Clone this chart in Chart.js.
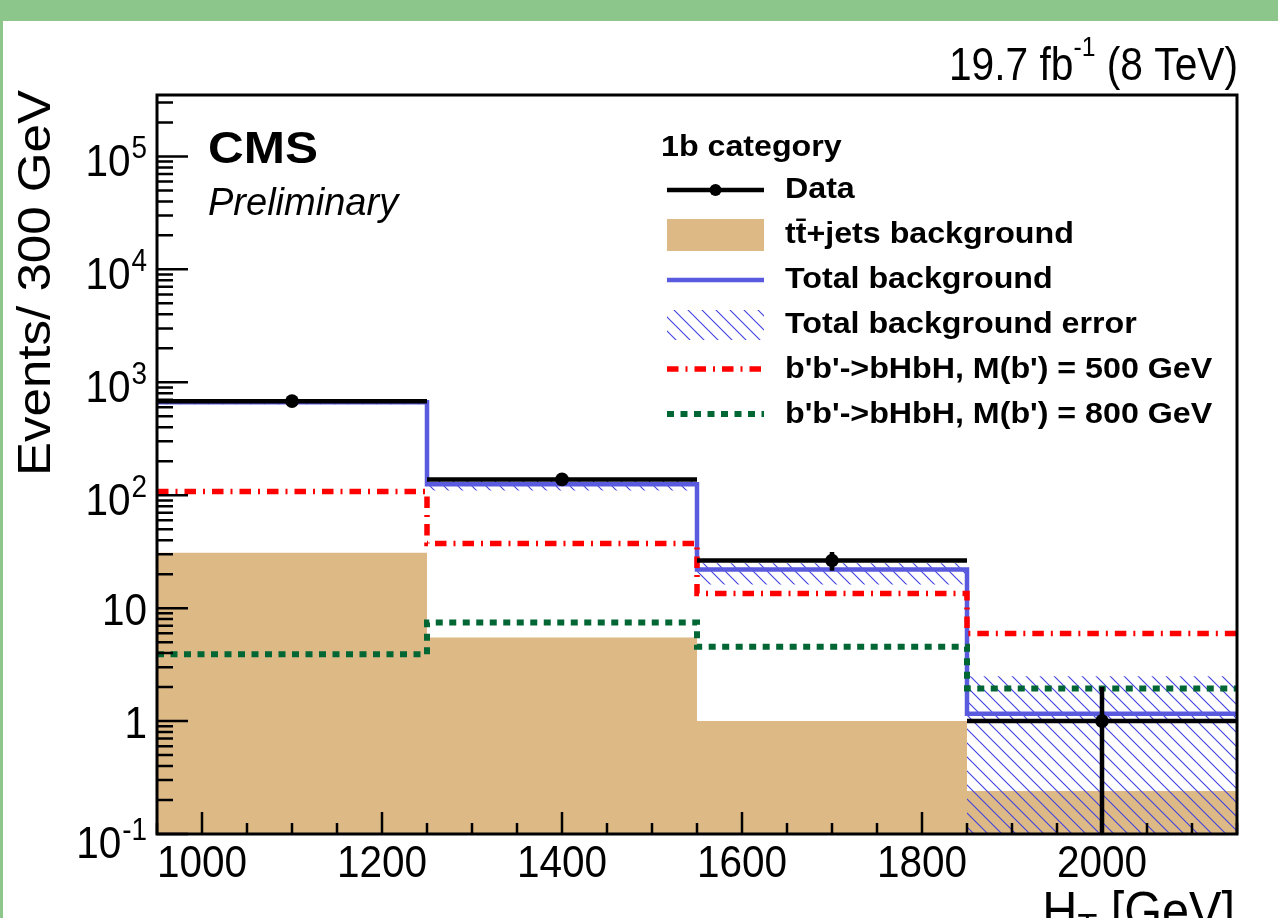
<!DOCTYPE html>
<html><head><meta charset="utf-8">
<script src="https://cdn.jsdelivr.net/npm/chart.js@4/dist/chart.umd.min.js"></script>
<style>
html,body{margin:0;padding:0;}
body{background:#8cc68b;width:1278px;height:918px;overflow:hidden;position:relative;}
#panel{position:absolute;left:3px;top:21px;right:0;bottom:0;background:#fff;}
#c{position:absolute;left:0;top:0;}
</style></head><body>
<div id="panel"></div>
<canvas id="c" width="1278" height="918"></canvas>
<script>
// ---- data ----
const binEdges = [950, 1250, 1550, 1850, 2150];
const binCenters = [1100, 1400, 1700, 2000];
const dataValues = [681, 138, 26.4, 1.0];
const dataErrors = [26, 12, 5, 1];
const ttbarValues = [31, 5.5, 1.0, 0.24];
const totalBkgValues = [665, 125, 22, 1.16];
const bkgErrLow = [640, 110, 16.2, 0.1];
const bkgErrHigh = [690, 135, 25, 2.5];
const sig500Values = [108, 37.4, 13.5, 5.95];
const sig800Values = [3.9, 7.45, 4.56, 1.94];
const xTickLabels = [1000, 1200, 1400, 1600, 1800, 2000];
const yTickExponents = [-1, 0, 1, 2, 3, 4, 5];
const xMinorStep = 50;
const xRange = [950, 2150];
const yRange = [0.1, 3.5e5];
const legendTitle = '1b category';
const legendLabels = ['Data', 'tt\u0304+jets background', 'Total background', 'Total background error',
  "b'b'->bHbH, M(b') = 500 GeV", "b'b'->bHbH, M(b') = 800 GeV"];

// ---- styles ----
const FONT = '"Liberation Sans", Arial, Helvetica, sans-serif';
const C_TAN = '#ddb985', C_BLUE = '#5a5ade', C_RED = '#ff0000', C_GREEN = '#006633', C_HATCH = '#4040e0';

function makeHatch() {
  const s = 14, c = document.createElement('canvas');
  c.width = s; c.height = s;
  const g = c.getContext('2d');
  g.strokeStyle = C_HATCH; g.lineWidth = 1.1;
  g.beginPath();
  g.moveTo(-2, -2); g.lineTo(s + 2, s + 2);
  g.moveTo(-s / 2 - 2, s / 2 - 2); g.lineTo(s / 2 + 2, 1.5 * s + 2);
  g.moveTo(s / 2 - 2, -s / 2 - 2); g.lineTo(1.5 * s + 2, s / 2 + 2);
  g.stroke();
  return g.createPattern(c, 'repeat');
}
const hatch = makeHatch();

const stepPts = vals => binEdges.map((x, i) => ({x, y: vals[Math.min(i, vals.length - 1)]}));
const dataPts = dataValues.map((v, i) => ({x: binCenters[i], y: v}));
const dataXBars = [];
dataValues.forEach((v, i) => dataXBars.push({x: binEdges[i], y: v}, {x: binEdges[i + 1], y: v}, {x: binEdges[i + 1], y: null}));
const dataYBars = [];
dataValues.forEach((v, i) => dataYBars.push({x: binCenters[i], y: Math.max(v - dataErrors[i], yRange[0])}, {x: binCenters[i], y: v + dataErrors[i]}, {x: binCenters[i], y: null}));

function txt(ctx, s, x, y, font, align, sx, rot) {
  ctx.save();
  ctx.font = font; ctx.textAlign = align || 'left'; ctx.textBaseline = 'alphabetic';
  ctx.fillStyle = '#000';
  ctx.translate(x, y); if (rot) ctx.rotate(rot); ctx.scale(sx || 1, 1);
  ctx.fillText(s, 0, 0);
  ctx.restore();
}
function tw(ctx, s, font, sx) { ctx.save(); ctx.font = font; const w = ctx.measureText(s).width * (sx || 1); ctx.restore(); return w; }

const overlay = {
  id: 'overlay',
  afterDraw(chart) {
    const {ctx, chartArea: a, scales: {x, y}} = chart;
    ctx.save();
    ctx.strokeStyle = '#000'; ctx.lineCap = 'butt';
    // ticks
    ctx.lineWidth = 2.5;
    ctx.beginPath();
    for (const e of yTickExponents) {
      for (let m = 1; m <= 9; m++) {
        const v = m * Math.pow(10, e);
        if (v < yRange[0] || v > yRange[1]) continue;
        const py = y.getPixelForValue(v);
        const len = m === 1 ? 31 : 16;
        ctx.moveTo(a.left, py); ctx.lineTo(a.left + len, py);
      }
    }
    for (let v = xRange[0]; v <= xRange[1]; v += xMinorStep) {
      const px = x.getPixelForValue(v);
      const len = xTickLabels.includes(v) ? 22 : 11;
      ctx.moveTo(px, a.bottom); ctx.lineTo(px, a.bottom - len);
    }
    ctx.stroke();
    // frame
    ctx.lineWidth = 3;
    ctx.strokeRect(a.left, a.top, a.right - a.left, a.bottom - a.top);
    ctx.restore();

    // tick labels
    const fT = `45px ${FONT}`, fS = `31px ${FONT}`, sxT = 0.9;
    for (const v of xTickLabels) txt(ctx, String(v), x.getPixelForValue(v), 877, fT, 'center', sxT);
    const yr = 147;
    for (const e of yTickExponents) {
      const py = y.getPixelForValue(Math.pow(10, e));
      if (e === 0) txt(ctx, '1', yr, py + 17, fT, 'right', sxT);
      else if (e === 1) txt(ctx, '10', yr, py + 17, fT, 'right', sxT);
      else {
        const sup = String(e);
        const ws = tw(ctx, sup, fS, sxT);
        const dy = e === -1 ? 4 : 0;
        txt(ctx, sup, yr, py + 2 + dy, fS, 'right', sxT);
        txt(ctx, '10', yr - ws - 1, py + 20 + dy, fT, 'right', sxT);
      }
    }
    // axis titles
    txt(ctx, 'Events/ 300 GeV', 50, 283, `46px ${FONT}`, 'center', 1.11, -Math.PI / 2);
    {
      const fX = `54px ${FONT}`, fXs = `36px ${FONT}`, sx = 0.9;
      const r = 1235;
      const w1 = tw(ctx, ' [GeV]', fX, sx);
      txt(ctx, ' [GeV]', r, 929, fX, 'right', sx);
      const wT = tw(ctx, 'T', fXs, sx);
      txt(ctx, 'T', r - w1, 940, fXs, 'right', sx);
      txt(ctx, 'H', r - w1 - wT, 929, fX, 'right', sx);
    }
    // lumi label
    {
      const f = `46px ${FONT}`, fs = `28px ${FONT}`, sx = 0.885, r = 1238;
      const w1 = tw(ctx, ' (8 TeV)', f, sx);
      txt(ctx, ' (8 TeV)', r, 80, f, 'right', sx);
      const w2 = tw(ctx, '-1', fs, sx);
      txt(ctx, '-1', r - w1, 56, fs, 'right', sx);
      txt(ctx, '19.7 fb', r - w1 - w2, 80, f, 'right', sx);
    }
    txt(ctx, 'CMS', 208, 163, `bold 45px ${FONT}`, 'left', 1.1);
    txt(ctx, 'Preliminary', 208, 215, `italic 39px ${FONT}`, 'left', 0.975);

    // legend
    const fL = `bold 29px ${FONT}`, sxL = 1.11;
    txt(ctx, legendTitle, 661, 156, fL, 'left', sxL);
    const x0 = 667, x1 = 764, tx = 785;
    const cy = [190, 235, 280, 325, 369, 414];
    const by = [198, 243, 288, 333, 378, 423];
    const ds = chart.data.datasets;
    ctx.save();
    // Data
    ctx.strokeStyle = '#000'; ctx.lineWidth = ds[1].borderWidth;
    ctx.beginPath(); ctx.moveTo(x0, cy[0]); ctx.lineTo(x1, cy[0]); ctx.stroke();
    ctx.fillStyle = '#000'; ctx.beginPath(); ctx.arc((x0 + x1) / 2, cy[0], 6, 0, Math.PI * 2); ctx.fill();
    // ttbar
    ctx.fillStyle = ds[8].backgroundColor; ctx.fillRect(x0, 219, x1 - x0, 32);
    // total bkg
    ctx.strokeStyle = ds[5].borderColor; ctx.lineWidth = ds[5].borderWidth;
    ctx.beginPath(); ctx.moveTo(x0, cy[2]); ctx.lineTo(x1, cy[2]); ctx.stroke();
    // hatch
    ctx.fillStyle = hatch; ctx.fillRect(x0, 310, x1 - x0, 30);
    // signals
    for (const [k, d] of [[4, ds[4]], [5, ds[3]]]) {
      ctx.strokeStyle = d.borderColor; ctx.lineWidth = d.borderWidth; ctx.setLineDash(d.borderDash);
      ctx.beginPath(); ctx.moveTo(x0, cy[k]); ctx.lineTo(x1, cy[k]); ctx.stroke();
    }
    ctx.restore();
    legendLabels.forEach((s, i) => txt(ctx, s, tx, by[i], fL, 'left', sxL));
  }
};

new Chart(document.getElementById('c'), {
  type: 'line',
  data: {
    datasets: [
      {label: 'Data', data: dataPts, showLine: false, pointRadius: 6.8, pointBackgroundColor: '#000', pointBorderWidth: 0, order: 0},
      {label: 'Data x', data: dataXBars, borderColor: '#000', borderWidth: 4.5, pointRadius: 0, order: 1},
      {label: 'Data y', data: dataYBars, borderColor: '#000', borderWidth: 4.5, pointRadius: 0, order: 1},
      {label: '800', data: stepPts(sig800Values), stepped: true, borderColor: C_GREEN, borderWidth: 6, borderDash: [7, 6.5], pointRadius: 0, order: 2},
      {label: '500', data: stepPts(sig500Values), stepped: true, borderColor: C_RED, borderWidth: 5.5, borderDash: [11.5, 7, 2, 7], pointRadius: 0, order: 3},
      {label: 'Total', data: stepPts(totalBkgValues), stepped: true, borderColor: C_BLUE, borderWidth: 4.5, pointRadius: 0, order: 4},
      {label: 'ErrHi', data: stepPts(bkgErrHigh), stepped: true, borderWidth: 0, pointRadius: 0, backgroundColor: hatch, fill: 7, order: 5},
      {label: 'ErrLo', data: stepPts(bkgErrLow), stepped: true, borderWidth: 0, pointRadius: 0, order: 6},
      {label: 'ttbar', data: stepPts(ttbarValues), stepped: true, borderWidth: 0, borderColor: C_TAN, backgroundColor: C_TAN, fill: 'start', pointRadius: 0, order: 7}
    ]
  },
  options: {
    responsive: false, animation: false, devicePixelRatio: 1,
    layout: {padding: {left: 157, top: 95, right: 41, bottom: 84}},
    scales: {
      x: {type: 'linear', min: xRange[0], max: xRange[1], display: false},
      y: {type: 'logarithmic', min: yRange[0], max: yRange[1], display: false}
    },
    plugins: {legend: {display: false}, tooltip: {enabled: false}},
    elements: {line: {tension: 0}}
  },
  plugins: [overlay]
});
</script>
</body></html>
